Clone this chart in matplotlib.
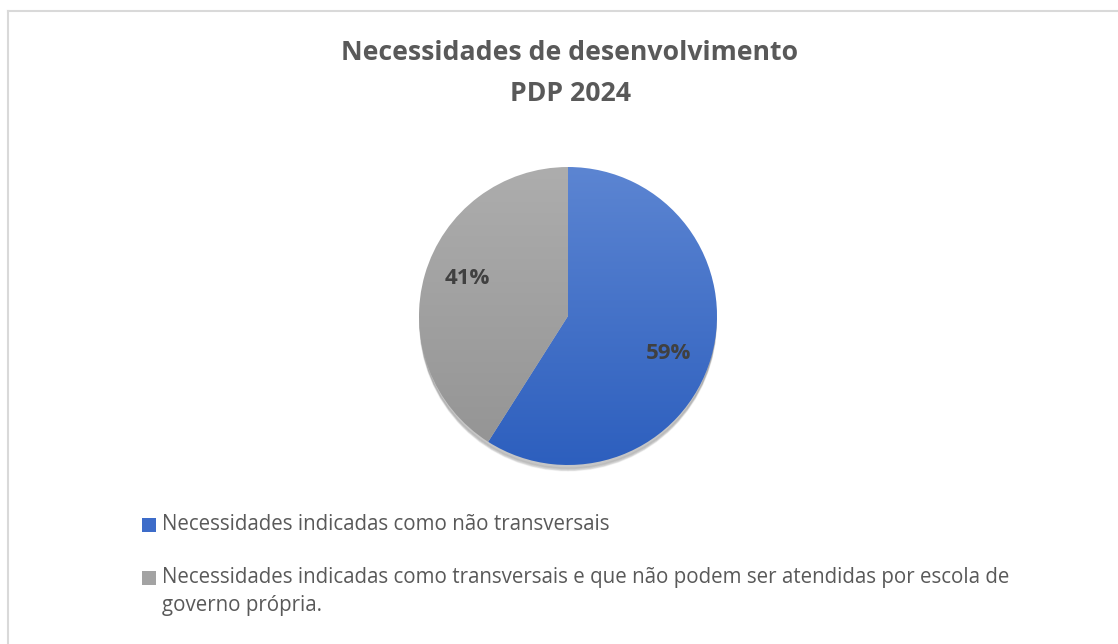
import numpy as np
import matplotlib
matplotlib.use("Agg")
import matplotlib.pyplot as plt
from matplotlib.patches import Circle, Rectangle
from matplotlib.colors import LinearSegmentedColormap
from matplotlib.lines import Line2D

title_lines = ["Necessidades de desenvolvimento", "PDP 2024"]
categories = ["Necessidades indicadas como não transversais",
              "Necessidades indicadas como transversais e que não podem ser atendidas por escola de\ngoverno própria."]
values = [59, 41]
colors_top = ["#5c85d2", "#adadad"]
colors_bot = ["#2d5fbe", "#939393"]
marker_colors = ["#3d6cc9", "#a3a3a3"]

W, H = 1118, 644
fig = plt.figure(figsize=(W/100, H/100), dpi=100)
fig.patch.set_facecolor("white")

# frame lines
fig.add_artist(Line2D([8/W, 8/W], [0, 1-11/H], color="#d9d9d9", lw=1.5))
fig.add_artist(Line2D([8/W, 1], [1-11/H, 1-11/H], color="#d9d9d9", lw=1.5))

for txt, yy in zip(title_lines, [53, 94]):
    fig.text(570/W, 1-yy/H, txt, ha="center", va="center",
             fontsize=19.2, fontweight="bold", color="#595959", family="Open Sans")

cx, cy, r = 568, 316, 149
ax = fig.add_axes([(cx-r)/W, (H-cy-r)/H, 2*r/W, 2*r/H])
ax.set_xlim(-1, 1); ax.set_ylim(-1, 1)
ax.set_aspect("equal"); ax.axis("off")

# shadow (bottom only)
for i in range(6):
    ax.add_patch(Circle((0, -0.025 - 0.004*i), 0.995, color="black", alpha=0.04, zorder=0, clip_on=False))

wedges, texts = ax.pie(values, startangle=90, counterclock=False, radius=1)
grad = np.linspace(0, 1, 256).reshape(-1, 1)
for w, ct, cb in zip(wedges, colors_top, colors_bot):
    cmap = LinearSegmentedColormap.from_list("g", [ct, cb])
    im = ax.imshow(grad, extent=[-1, 1, -1, 1], cmap=cmap, aspect="auto", zorder=1, origin="upper")
    im.set_clip_path(w)
    w.set_facecolor("none"); w.set_edgecolor("none")

total = sum(values)
for w, v in zip(wedges, values):
    ang = np.deg2rad((w.theta1 + w.theta2) / 2 - 4.5)
    ax.text(0.72*np.cos(ang), 0.72*np.sin(ang), f"{round(100*v/total)}%", ha="center", va="center",
            fontsize=16, fontweight="bold", color="#404040", family="Open Sans", zorder=5)
ax.set_xlim(-1, 1); ax.set_ylim(-1, 1)

# legend
leg_y = [525, 578]
for lab, yy, mc in zip(categories, leg_y, marker_colors):
    fig.patches.append(Rectangle((142/W, 1-(yy+7)/H), 14/W, 14/H, transform=fig.transFigure,
                                 facecolor=mc, edgecolor="none"))
    for k, line in enumerate(lab.split("\n")):
        fig.text(162/W, 1-(yy + 27*k)/H, line, ha="left", va="center",
                 fontsize=14.8, color="#595959", family="Open Sans")

fig.savefig("out.png", dpi=100)
